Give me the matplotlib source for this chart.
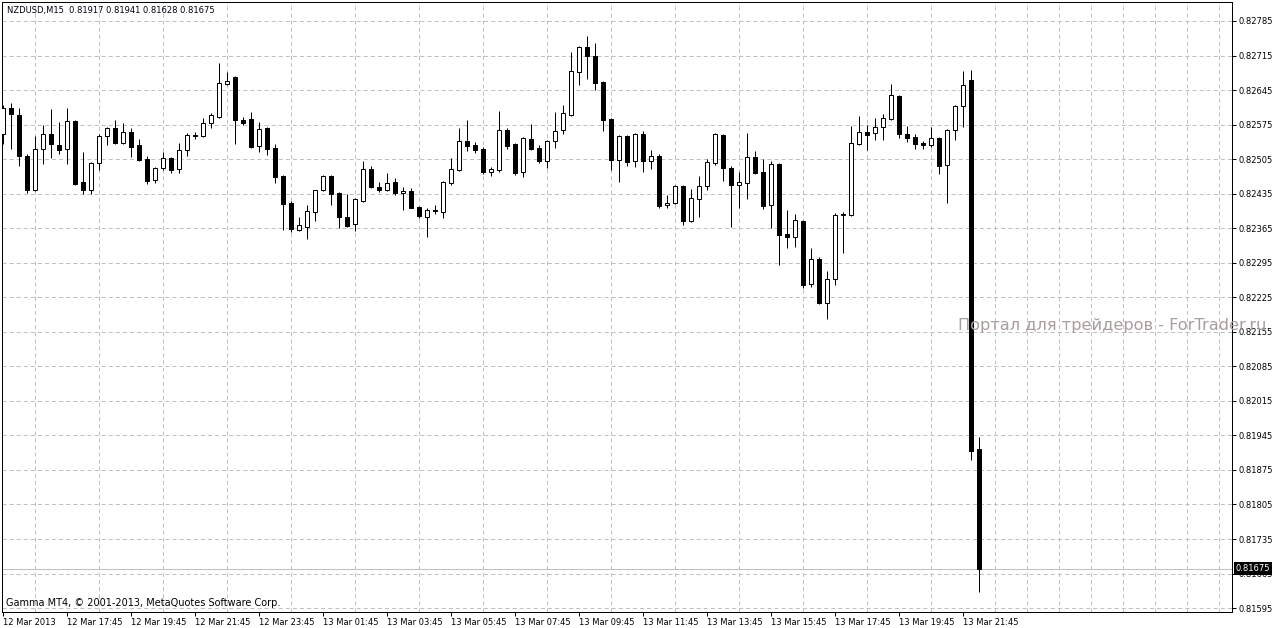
import numpy as np
import matplotlib
matplotlib.use("Agg")
import matplotlib.pyplot as plt
import matplotlib.transforms as mtransforms

plt.rcParams['font.family'] = ['DejaVu Sans']
plt.rcParams['lines.scale_dashes'] = False

#%% data: NZDUSD M15, one bar every 15 min starting 12 Mar 15:45
opens = [0.82556, 0.82609, 0.82594, 0.82511, 0.82442, 0.82526, 0.82556, 0.82534, 0.82526, 0.82582,
         0.82459, 0.82442, 0.82497, 0.82552, 0.82568, 0.82538, 0.82560, 0.82534, 0.82505, 0.82463,
         0.82487, 0.82507, 0.82485, 0.82524, 0.82554, 0.82552, 0.82578, 0.82590, 0.82657, 0.82671,
         0.82584, 0.82586, 0.82532, 0.82568, 0.82528, 0.82471, 0.82416, 0.82361, 0.82367, 0.82398,
         0.82442, 0.82471, 0.82436, 0.82388, 0.82374, 0.82420, 0.82485, 0.82448, 0.82442, 0.82459,
         0.82436, 0.82440, 0.82408, 0.82388, 0.82402, 0.82398, 0.82457, 0.82483, 0.82542, 0.82534,
         0.82526, 0.82479, 0.82483, 0.82564, 0.82536, 0.82479, 0.82546, 0.82528, 0.82501, 0.82542,
         0.82564, 0.82594, 0.82682, 0.82732, 0.82714, 0.82661, 0.82586, 0.82503, 0.82552, 0.82501,
         0.82556, 0.82501, 0.82511, 0.82412, 0.82416, 0.82451, 0.82380, 0.82424, 0.82451, 0.82497,
         0.82554, 0.82487, 0.82453, 0.82457, 0.82509, 0.82479, 0.82412, 0.82495, 0.82353, 0.82347,
         0.82380, 0.82252, 0.82303, 0.82213, 0.82262, 0.82391, 0.82392, 0.82536, 0.82560, 0.82558,
         0.82570, 0.82586, 0.82633, 0.82556, 0.82550, 0.82538, 0.82534, 0.82548, 0.82493, 0.82564,
         0.82613, 0.82665, 0.81917]
highs = [0.82615, 0.82619, 0.82609, 0.82515, 0.82552, 0.82574, 0.82607, 0.82580, 0.82609, 0.82584,
         0.82519, 0.82499, 0.82556, 0.82570, 0.82584, 0.82578, 0.82568, 0.82546, 0.82511, 0.82489,
         0.82519, 0.82509, 0.82538, 0.82558, 0.82560, 0.82588, 0.82599, 0.82700, 0.82682, 0.82673,
         0.82590, 0.82601, 0.82580, 0.82570, 0.82536, 0.82473, 0.82420, 0.82388, 0.82412, 0.82442,
         0.82473, 0.82473, 0.82438, 0.82434, 0.82426, 0.82501, 0.82491, 0.82459, 0.82477, 0.82467,
         0.82448, 0.82446, 0.82410, 0.82406, 0.82412, 0.82461, 0.82507, 0.82568, 0.82584, 0.82540,
         0.82530, 0.82489, 0.82603, 0.82568, 0.82538, 0.82550, 0.82576, 0.82534, 0.82544, 0.82601,
         0.82615, 0.82722, 0.82734, 0.82755, 0.82740, 0.82663, 0.82588, 0.82554, 0.82554, 0.82558,
         0.82562, 0.82524, 0.82515, 0.82432, 0.82453, 0.82453, 0.82444, 0.82471, 0.82505, 0.82558,
         0.82556, 0.82491, 0.82479, 0.82558, 0.82521, 0.82505, 0.82501, 0.82497, 0.82402, 0.82394,
         0.82382, 0.82325, 0.82307, 0.82278, 0.82396, 0.82398, 0.82572, 0.82592, 0.82574, 0.82588,
         0.82596, 0.82657, 0.82635, 0.82572, 0.82556, 0.82542, 0.82570, 0.82550, 0.82566, 0.82615,
         0.82684, 0.82686, 0.81941]
lows = [0.82536, 0.82526, 0.82491, 0.82436, 0.82440, 0.82495, 0.82507, 0.82515, 0.82495, 0.82453,
        0.82434, 0.82434, 0.82483, 0.82534, 0.82536, 0.82536, 0.82509, 0.82501, 0.82455, 0.82457,
        0.82483, 0.82477, 0.82477, 0.82511, 0.82546, 0.82550, 0.82568, 0.82588, 0.82655, 0.82536,
        0.82574, 0.82528, 0.82519, 0.82513, 0.82457, 0.82361, 0.82357, 0.82359, 0.82343, 0.82380,
        0.82440, 0.82412, 0.82365, 0.82367, 0.82359, 0.82418, 0.82446, 0.82438, 0.82440, 0.82432,
        0.82402, 0.82406, 0.82386, 0.82347, 0.82394, 0.82386, 0.82453, 0.82481, 0.82521, 0.82517,
        0.82475, 0.82471, 0.82479, 0.82526, 0.82473, 0.82469, 0.82524, 0.82497, 0.82487, 0.82528,
        0.82556, 0.82592, 0.82655, 0.82667, 0.82645, 0.82562, 0.82483, 0.82459, 0.82491, 0.82489,
        0.82479, 0.82485, 0.82406, 0.82406, 0.82414, 0.82372, 0.82378, 0.82388, 0.82442, 0.82493,
        0.82461, 0.82367, 0.82406, 0.82424, 0.82475, 0.82404, 0.82365, 0.82290, 0.82325, 0.82327,
        0.82244, 0.82246, 0.82211, 0.82181, 0.82250, 0.82315, 0.82390, 0.82534, 0.82524, 0.82544,
        0.82544, 0.82584, 0.82548, 0.82540, 0.82526, 0.82526, 0.82530, 0.82475, 0.82416, 0.82544,
        0.82570, 0.81895, 0.81628]
closes = [0.82609, 0.82596, 0.82511, 0.82442, 0.82526, 0.82556, 0.82536, 0.82524, 0.82582, 0.82455,
          0.82442, 0.82497, 0.82552, 0.82568, 0.82538, 0.82560, 0.82530, 0.82503, 0.82461, 0.82487,
          0.82507, 0.82483, 0.82524, 0.82554, 0.82552, 0.82578, 0.82594, 0.82659, 0.82663, 0.82584,
          0.82578, 0.82530, 0.82566, 0.82526, 0.82469, 0.82414, 0.82363, 0.82372, 0.82400, 0.82442,
          0.82471, 0.82434, 0.82388, 0.82369, 0.82424, 0.82485, 0.82448, 0.82442, 0.82457, 0.82436,
          0.82440, 0.82406, 0.82390, 0.82402, 0.82400, 0.82459, 0.82485, 0.82542, 0.82532, 0.82524,
          0.82479, 0.82485, 0.82564, 0.82532, 0.82477, 0.82548, 0.82526, 0.82501, 0.82542, 0.82562,
          0.82599, 0.82684, 0.82732, 0.82714, 0.82659, 0.82584, 0.82503, 0.82552, 0.82499, 0.82556,
          0.82501, 0.82511, 0.82410, 0.82416, 0.82451, 0.82380, 0.82426, 0.82451, 0.82499, 0.82556,
          0.82487, 0.82453, 0.82459, 0.82509, 0.82477, 0.82410, 0.82495, 0.82351, 0.82347, 0.82382,
          0.82250, 0.82303, 0.82213, 0.82262, 0.82392, 0.82393, 0.82538, 0.82560, 0.82554, 0.82570,
          0.82588, 0.82635, 0.82556, 0.82548, 0.82536, 0.82534, 0.82548, 0.82491, 0.82564, 0.82613,
          0.82655, 0.81913, 0.81675]

time_ticks = [0, 8, 16, 24, 32, 40, 48, 56, 64, 72, 80, 88, 96, 104, 112, 120]
time_labels = ["12 Mar 2013", "12 Mar 17:45", "12 Mar 19:45", "12 Mar 21:45", "12 Mar 23:45",
               "13 Mar 01:45", "13 Mar 03:45", "13 Mar 05:45", "13 Mar 07:45", "13 Mar 09:45",
               "13 Mar 11:45", "13 Mar 13:45", "13 Mar 15:45", "13 Mar 17:45", "13 Mar 19:45",
               "13 Mar 21:45"]
price_ticks = [0.81595, 0.81665, 0.81735, 0.81805, 0.81875, 0.81945, 0.82015, 0.82085, 0.82155,
               0.82225, 0.82295, 0.82365, 0.82435, 0.82505, 0.82575, 0.82645, 0.82715, 0.82785]

symbol = "NZDUSD,M15"
copyright_txt = "Gamma MT4, \u00a9 2001-2013, MetaQuotes Software Corp."
watermark = "Портал для трейдеров - ForTrader.ru"

#%% figure
W, H = 1274, 628
fig = plt.figure(figsize=(W / 100, H / 100), dpi=100)
fig.patch.set_facecolor('white')
ax = fig.add_axes([2 / W, (H - 611.5) / H, 1230 / W, 609.5 / H])

o = np.array(opens)
h = np.array(highs)
l = np.array(lows)
c = np.array(closes)
x = np.arange(len(o))
up = c >= o

lw = 0.72  # one pixel
ax.vlines(x, l, h, color='black', lw=lw, zorder=2)
ax.bar(x[up], (c - o)[up], bottom=o[up], width=0.5, facecolor='white',
       edgecolor='black', lw=lw, zorder=3)
ax.bar(x[~up], (c - o)[~up], bottom=o[~up], width=0.5, facecolor='black',
       edgecolor='black', lw=lw, zorder=3)

# last price line
ax.axhline(c[-1], color='#c0c0c0', lw=lw, zorder=1.5)

ax.set_xlim(-0.125, 153.625)
ax.set_ylim(0.815881, 0.828235)

ax.set_xticks(time_ticks)
ax.set_xticklabels(time_labels, ha='left')
ax.set_xticks(np.arange(4, 154, 4), minor=True)
ax.set_yticks(price_ticks)
ax.set_yticklabels([f"{p:.5f}" for p in price_ticks])
ax.yaxis.tick_right()

ax.tick_params(axis='x', which='major', direction='out', length=3, width=lw,
               pad=1.5, labelsize=6)
ax.tick_params(axis='x', which='minor', length=0)
ax.tick_params(axis='y', direction='out', length=3, width=lw, pad=2, labelsize=6)

gridstyle = dict(color='#c0c0c0', linestyle=(0, (2.9, 2.2)), linewidth=lw)
ax.grid(False)
ax.xaxis.grid(True, which='minor', **gridstyle)
ax.yaxis.grid(True, which='major', **gridstyle)
ax.set_axisbelow(True)

for s in ax.spines.values():
    s.set_linewidth(lw)
    s.set_color('black')

# price box on the right scale
trans = mtransforms.blended_transform_factory(ax.transAxes, ax.transData)
ax.text(1.0028, c[-1], f"{c[-1]:.5f}", transform=trans, color='white', fontsize=6,
        ha='left', va='center', zorder=10, clip_on=False,
        bbox=dict(boxstyle='square,pad=0.22', fc='black', ec='none'))

header = f"{symbol}  {o[-1]:.5f} {h[-1]:.5f} {l[-1]:.5f} {c[-1]:.5f}"
fig.text(7 / W, 1 - 10 / H, header, fontsize=6, va='center', ha='left', color='#000010')
fig.text(6 / W, 1 - 603 / H, copyright_txt, fontsize=7, va='center', ha='left')
fig.text(958 / W, 1 - 325 / H, watermark, fontsize=11.6, va='center', ha='left',
         color='#aa9d9d', zorder=20)

fig.savefig("out.png", dpi=100, facecolor='white')
